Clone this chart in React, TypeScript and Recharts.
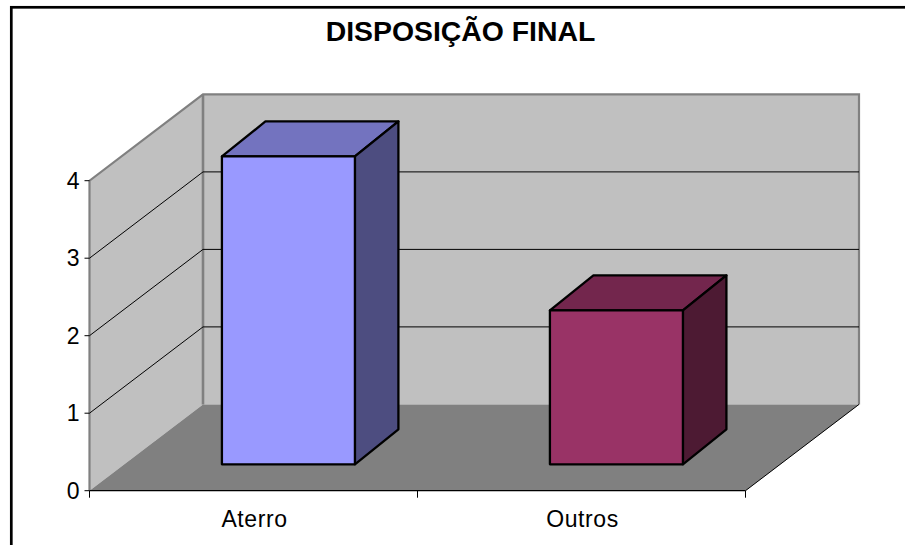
import { BarChart, Bar, Cell, XAxis, YAxis, CartesianGrid } from 'recharts';

const categories = ['Aterro', 'Outros'];
const values = [4, 2];
const yTicks = [0, 1, 2, 3, 4];
const frontColors = ['#9999FF', '#993366'];
const topColors = ['#7373BF', '#73264D'];
const sideColors = ['#4D4D80', '#4D1A33'];

const chartData = categories.map((name, i) => ({ name, value: values[i] }));

const W = 905;
const H = 545;
const plot = { left: 89.5, top: 180.7, right: 745.5, bottom: 490.7 };
const yAxisWidth = 60;
const xAxisHeight = 40;
// wall depth, then how far the bars sit inside it and how deep they are
const wall = { dx: 113.5, dy: -86.3 };
const barOffset = { dx: 35, dy: -26.4 };
const barDepth = { dx: 43.5, dy: -35 };
const barShrink = 0.993;
const bandWidth = (plot.right - plot.left) / categories.length;
const fontFamily = '"Liberation Sans", Arial, sans-serif';

function pts(list: number[][]) {
  return list.map((p) => p.join(',')).join(' ');
}

// walls, floor and title sit in their own svg under the (transparent) chart
function Walls() {
  const { left, top, right, bottom } = plot;
  const bx = left + wall.dx;
  const tb = top + wall.dy;
  const bb = bottom + wall.dy;
  const brx = right + wall.dx;
  return (
    <svg width={W} height={H} style={{ position: 'absolute', left: 0, top: 0 }}>
      <rect x={11.3} y={7.3} width={W + 20} height={H + 20} fill="none" stroke="#000" strokeWidth={2.7} />
      <text x={460.5} y={41} textAnchor="middle" fontFamily={fontFamily} fontWeight="bold" fontSize={28.4} fill="#000">
        DISPOSIÇÃO FINAL
      </text>
      <polygon points={pts([[bx, tb], [brx, tb], [brx, bb], [bx, bb]])} fill="#C0C0C0" />
      <polygon points={pts([[left, top], [bx, tb], [bx, bb], [left, bottom]])} fill="#C0C0C0" />
      <polygon points={pts([[left, bottom], [bx, bb], [brx, bb], [right, bottom]])} fill="#808080" />
      <polyline points={pts([[left, bottom], [left, top], [bx, tb], [brx, tb], [brx, bb]])} fill="none" stroke="#808080" strokeWidth={2.2} />
      <line x1={bx} y1={tb} x2={bx} y2={bb} stroke="#808080" strokeWidth={2.6} />
      <line x1={left} y1={bottom} x2={right} y2={bottom} stroke="#000" strokeWidth={1.3} />
      <line x1={right} y1={bottom} x2={brx} y2={bb} stroke="#000" strokeWidth={1} />
    </svg>
  );
}

// each grid line runs up the side wall and along the back wall
function GridLine(props: any) {
  const { x1, x2, y1 } = props;
  if (y1 <= plot.top + 1 || y1 >= plot.bottom - 1) return <g />;
  const bx = x1 + wall.dx;
  const by = y1 + wall.dy;
  return (
    <polyline
      points={pts([[x1, y1], [bx, by], [x2 + wall.dx, by]])}
      fill="none"
      stroke="#000"
      strokeWidth={1}
    />
  );
}

function Box3D(props: any) {
  const { x, y, width, height, index } = props;
  const h = height * barShrink;
  const l = x + barOffset.dx;
  const r = l + width;
  const b = y + height + barOffset.dy;
  const t = b - h;
  const { dx, dy } = barDepth;
  const line = { stroke: '#000', strokeWidth: 2.3, strokeLinejoin: 'round' as const };
  return (
    <g>
      <polygon points={pts([[l, t], [l + dx, t + dy], [r + dx, t + dy], [r, t]])} fill={topColors[index]} {...line} />
      <polygon points={pts([[r, t], [r + dx, t + dy], [r + dx, b + dy], [r, b]])} fill={sideColors[index]} {...line} />
      <rect x={l} y={t} width={width} height={h} fill={frontColors[index]} {...line} />
    </g>
  );
}

// Excel puts the category ticks on the band edges, not the centres
function CategoryTick(props: any) {
  const { x, payload, index } = props;
  const edgeL = x - bandWidth / 2;
  const edgeR = x + bandWidth / 2;
  return (
    <g>
      <line x1={edgeL} y1={plot.bottom} x2={edgeL} y2={plot.bottom + 7} stroke="#000" />
      {index === categories.length - 1 && (
        <line x1={edgeR} y1={plot.bottom} x2={edgeR} y2={plot.bottom + 7} stroke="#000" />
      )}
      <text x={x + 1} y={527} textAnchor="middle" fontFamily={fontFamily} fontSize={23} letterSpacing={0.6} fill="#000">
        {payload.value}
      </text>
    </g>
  );
}

export default function App() {
  return (
    <div style={{ position: 'absolute', left: 0, top: 0, width: W, height: H, overflow: 'hidden', background: '#fff' }}>
      <Walls />
      <div style={{ position: 'absolute', left: 0, top: 0 }}>
        <BarChart
          width={W}
          height={H}
          data={chartData}
          barCategoryGap="29.7%"
          margin={{
            top: plot.top,
            left: plot.left - yAxisWidth,
            right: W - plot.right,
            bottom: H - plot.bottom - xAxisHeight,
          }}
        >
          <CartesianGrid vertical={false} horizontal={(p: any) => <GridLine key={p.key} {...p} />} />
          <XAxis dataKey="name" height={xAxisHeight} axisLine={false} tickLine={false} interval={0} tick={<CategoryTick />} />
          <YAxis
            width={yAxisWidth}
            domain={[0, 4]}
            ticks={yTicks}
            axisLine={false}
            tickSize={5}
            tickMargin={5}
            tickLine={{ stroke: '#000' }}
            tick={{ fill: '#000', fontSize: 23, fontFamily }}
          />
          <Bar dataKey="value" isAnimationActive={false} shape={<Box3D />}>
            {chartData.map((d, i) => (
              <Cell key={d.name} fill={frontColors[i]} />
            ))}
          </Bar>
        </BarChart>
      </div>
    </div>
  );
}
